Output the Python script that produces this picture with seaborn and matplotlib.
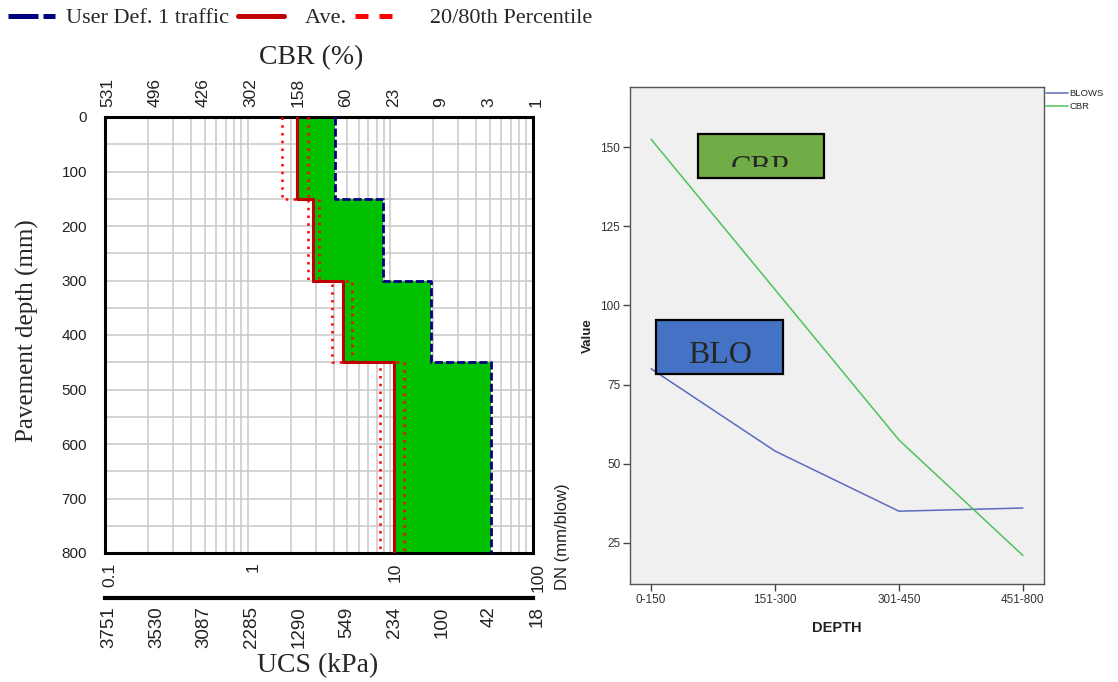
import numpy as np
import pandas as pd
import matplotlib
matplotlib.use("Agg")
import matplotlib.pyplot as plt
import matplotlib.transforms as mtransforms
from matplotlib.lines import Line2D
from matplotlib.patches import Rectangle
from matplotlib.ticker import NullFormatter, NullLocator
import seaborn as sns

# --- left chart: DCP layer data (DN, mm/blow) ---
layer_tops = [0, 150, 300, 450]
layer_bottoms = [150, 300, 450, 800]
dn_user = [4.1, 8.9, 19.3, 50.5]
dn_avg = [2.2, 2.85, 4.65, 10.6]
dn_p20 = [1.75, 2.65, 3.9, 8.45]
dn_p80 = [2.65, 3.15, 5.4, 12.4]

dn_ticks = [0.1, 1, 10, 100]
dn_labels = ["0.1", "1", "10", "100"]
cbr_labels = ["531", "496", "426", "302", "158", "60", "23", "9", "3", "1"]
ucs_labels = ["3751", "3530", "3087", "2285", "1290", "549", "234", "100", "42", "18"]

# --- right chart: value by depth ---
depth_cats = ["0-150", "151-300", "301-450", "451-800"]
blows = [80, 54, 35, 36]
cbr = [152.5, 105, 57.5, 21]

SERIF = "Liberation Serif"
SANS = "Liberation Sans"

sns.set_style("white")
plt.rcParams["font.family"] = [SANS, "DejaVu Sans"]

W, H = 1118, 682
fig = plt.figure(figsize=(W / 100, H / 100), dpi=100)


def fx(x):
    return x / W


def fy(y):
    return 1 - y / H


def steps(vals):
    xs, ys = [], []
    for v, t, b in zip(vals, layer_tops, layer_bottoms):
        xs += [v, v]
        ys += [t, b]
    return xs, ys


def nudge(labels, dx_px):
    off = mtransforms.ScaledTranslation(dx_px / 100, 0, fig.dpi_scale_trans)
    for lbl in labels:
        lbl.set_transform(lbl.get_transform() + off)


# ================= left chart =================
ax = fig.add_axes([fx(105), fy(553), (533 - 105) / W, (553 - 117) / H])
ax.set_xscale("log")
ax.set_xlim(0.1, 100)
ax.set_ylim(800, 0)
ax.set_yticks(range(0, 801, 100))
ax.set_yticks(range(0, 801, 50), minor=True)
ax.grid(True, which="both", color="#c8c8c8", lw=1.1)
ax.set_axisbelow(True)

xs_user, ys = steps(dn_user)
xs_avg, _ = steps(dn_avg)
xs_p20, _ = steps(dn_p20)
xs_p80, _ = steps(dn_p80)

ax.fill_betweenx(ys, xs_avg, xs_user, color="#00c000", lw=0, zorder=2)
ax.plot(xs_p20, ys, color="#ff0000", lw=1.8, dashes=(1, 2.1), zorder=3)
ax.plot(xs_p80, ys, color="#ff0000", lw=1.8, dashes=(1, 2.1), zorder=3)
ax.plot(xs_avg, ys, color="#c00000", lw=2.2, zorder=4)
ax.plot(xs_user, ys, color="#000080", lw=2.0, dashes=(2.9, 1.1), zorder=4)

ax.set_xticks(dn_ticks, dn_labels)
ax.xaxis.set_minor_formatter(NullFormatter())
ax.tick_params(axis="both", which="both", length=0)
ax.tick_params(axis="x", pad=7, labelsize=12.5, labelcolor="#222", labelrotation=90)
ax.tick_params(axis="y", pad=13, labelsize=11, labelcolor="#222")
for s in ax.spines.values():
    s.set_linewidth(2.2)
    s.set_color("black")
nudge(ax.get_xticklabels(), 5)

pos = np.logspace(-1, 2, 10)

# CBR scale on top
axt = ax.twiny()
axt.set_xscale("log")
axt.set_xlim(0.1, 100)
axt.set_xticks(pos, cbr_labels)
axt.xaxis.set_minor_locator(NullLocator())
axt.tick_params(axis="x", length=0, pad=7, labelsize=12.5, labelcolor="#222",
                labelrotation=90)
for s in axt.spines.values():
    s.set_visible(False)
nudge(axt.get_xticklabels(), 3)

# UCS scale below
axu = ax.twiny()
axu.set_xscale("log")
axu.set_xlim(0.1, 100)
axu.xaxis.set_ticks_position("bottom")
axu.xaxis.set_label_position("bottom")
axu.set_xticks(pos, ucs_labels)
axu.xaxis.set_minor_locator(NullLocator())
axu.tick_params(axis="x", length=0, pad=6, labelsize=13.5, labelcolor="#222",
                labelrotation=90)
for name, s in axu.spines.items():
    s.set_visible(name == "bottom")
axu.spines["bottom"].set_position(("outward", 32.4))
axu.spines["bottom"].set_linewidth(3)
axu.spines["bottom"].set_color("black")
nudge(axu.get_xticklabels(), 4)

fig.text(fx(311), fy(58), "CBR (%)", family=SERIF, fontsize=20, ha="center", va="center")
fig.text(fx(318), fy(666), "UCS (kPa)", family=SERIF, fontsize=20, ha="center", va="center")
fig.text(fx(27), fy(331), "Pavement depth (mm)", family=SERIF, fontsize=18,
         rotation=90, ha="center", va="center")
fig.text(fx(563), fy(590), "DN (mm/blow)", fontsize=12, rotation=90,
         ha="center", va="bottom", color="#222")

# top legend
leg_handles = [
    Line2D([], [], color="#000080", lw=3.6, dashes=(6, 1)),
    Line2D([], [], color="#c00000", lw=3.6),
    Line2D([], [], color="#ff0000", lw=3.6, dashes=(2.6, 2.2)),
]
leg_labels = ["User Def. 1 traffic", "  Ave.", "   20/80th Percentile"]
fig.legend(leg_handles, leg_labels, loc="center left", bbox_to_anchor=(fx(8), fy(18)),
           ncol=3, frameon=False, prop={"family": SERIF, "size": 16},
           handlelength=2.1, handletextpad=0.5, columnspacing=0.4,
           borderpad=0, borderaxespad=0)

# ================= right chart =================
axr = fig.add_axes([fx(630), fy(584), (1044 - 630) / W, (584 - 87) / H])
df = pd.DataFrame({
    "DEPTH": depth_cats * 2,
    "Value": blows + cbr,
    "series": ["BLOWS"] * 4 + ["CBR"] * 4,
})
palette = {"BLOWS": "#5b6abf", "CBR": "#4fc25d"}
sns.lineplot(data=df, x="DEPTH", y="Value", hue="series", palette=palette,
             lw=1.1, sort=False, legend=False, ax=axr)
axr.set_facecolor("#f0f0f0")
axr.set_xlim(-0.17, 3.17)
axr.set_ylim(12, 169)
axr.set_yticks([25, 50, 75, 100, 125, 150])
axr.set_xlabel("")
axr.set_ylabel("")
axr.tick_params(axis="both", direction="out", length=5, width=1, color="#444",
                labelsize=8.5, labelcolor="#333", pad=2, left=True, bottom=True)
for s in axr.spines.values():
    s.set_linewidth(1)
    s.set_color("#555")

fig.text(fx(588), fy(336), "Value", fontsize=9.5, weight="bold", rotation=90,
         ha="center", va="center", color="#222")
fig.text(fx(837), fy(628), "DEPTH", fontsize=10.5, weight="bold",
         ha="center", va="center", color="#222")

r_handles = [Line2D([], [], color=palette[k], lw=1.1) for k in ["BLOWS", "CBR"]]
fig.legend(r_handles, ["BLOWS", "CBR"], loc="upper left",
           bbox_to_anchor=(fx(1046), fy(89)), frameon=False, fontsize=6.8,
           handlelength=2.3, handletextpad=0.2, labelspacing=0.45,
           borderpad=0, borderaxespad=0)

# overlay boxes
box_cbr = Rectangle((fx(698), fy(178)), (824 - 698) / W, (178 - 134) / H,
                    transform=fig.transFigure, facecolor="#70ad47",
                    edgecolor="black", lw=1.6, zorder=5)
fig.add_artist(box_cbr)
clip = Rectangle((fx(698), fy(167)), (824 - 698) / W, (167 - 134) / H,
                 transform=fig.transFigure, facecolor="none", edgecolor="none")
t = fig.text(fx(761), fy(177), "CBR", family=SERIF, fontsize=22,
             ha="center", va="baseline", zorder=6)
t.set_clip_path(clip)

box_blo = Rectangle((fx(656), fy(374)), (783 - 656) / W, (374 - 320) / H,
                    transform=fig.transFigure, facecolor="#4472c4",
                    edgecolor="black", lw=1.6, zorder=5)
fig.add_artist(box_blo)
fig.text(fx(720), fy(363), "BLO", family=SERIF, fontsize=23,
         ha="center", va="baseline", zorder=6)

fig.savefig("out.png", dpi=100)
